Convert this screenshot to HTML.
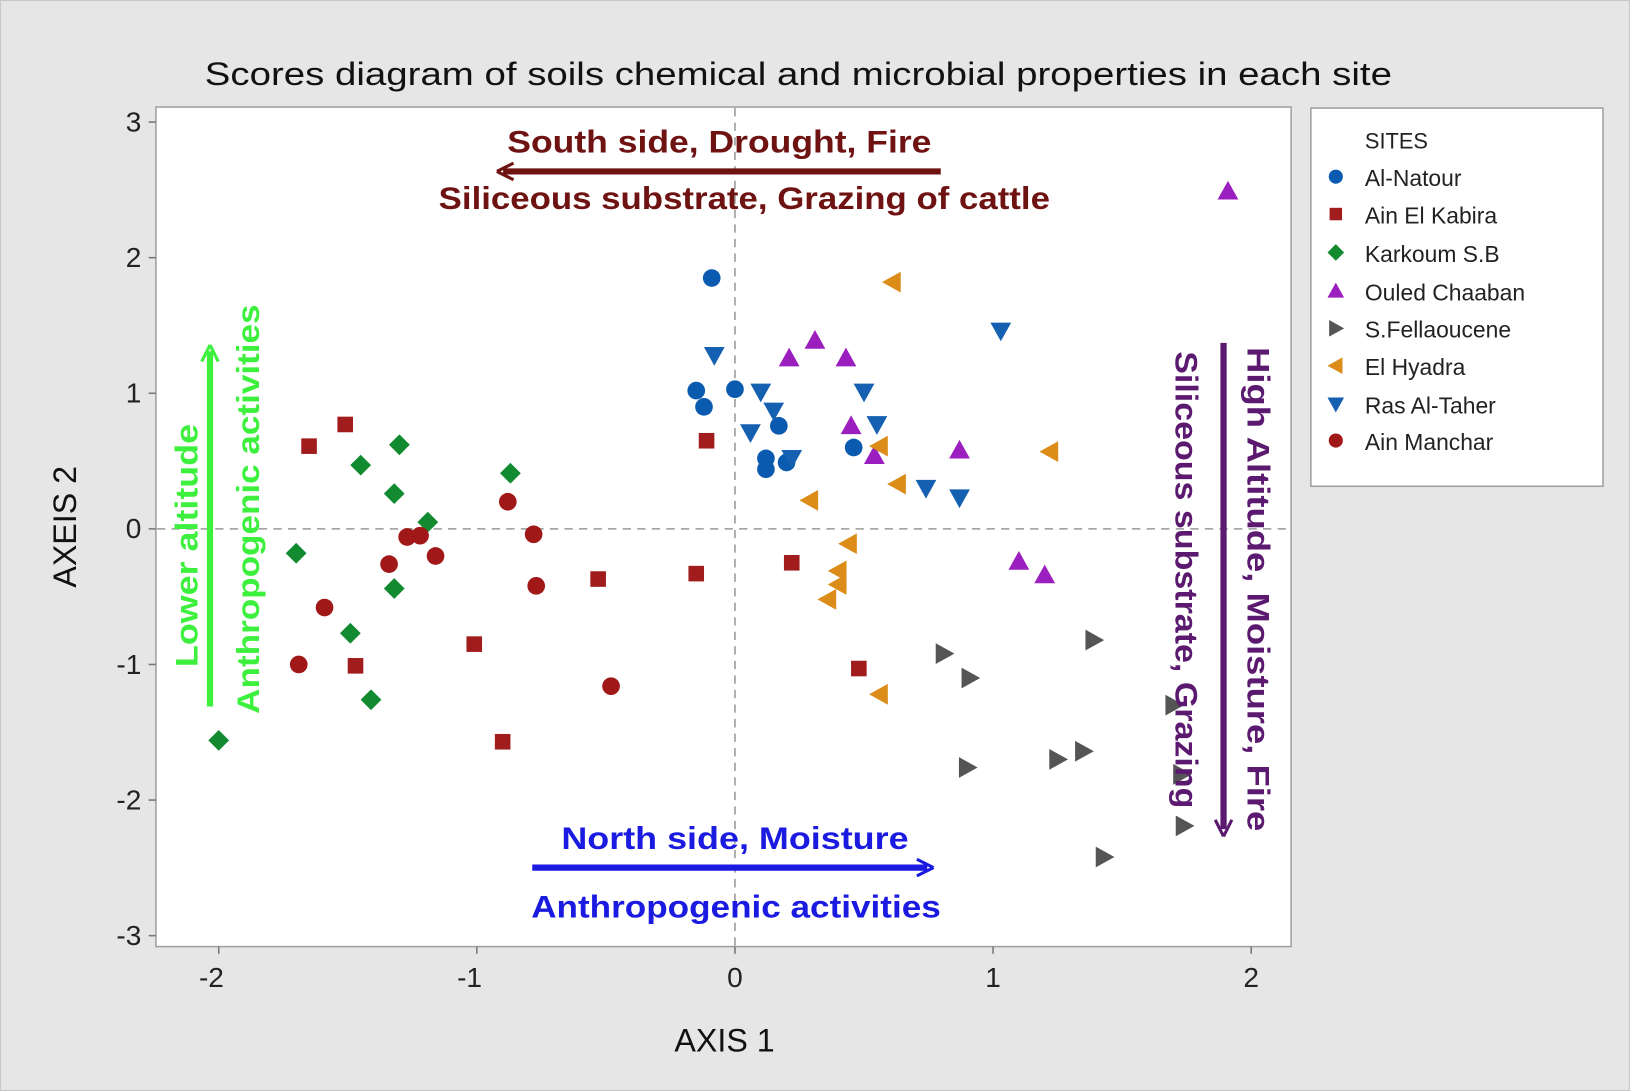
<!DOCTYPE html>
<html><head><meta charset="utf-8"><style>
html,body{margin:0;padding:0;background:#e6e6e6;}
svg{display:block;font-family:"Liberation Sans",sans-serif;}
</style></head><body>
<svg id="chart" width="1630" height="1091" viewBox="0 0 1568 1050" preserveAspectRatio="none">
<rect x="0" y="0" width="1568" height="1050" fill="#e6e6e6" stroke="#c8c8c8" stroke-width="2"/>
<text x="768" y="82" text-anchor="middle" font-size="31" textLength="1142" lengthAdjust="spacingAndGlyphs" fill="#111">Scores diagram of soils chemical and microbial properties in each site</text>
<rect x="150" y="103" width="1092" height="808" fill="#fff" stroke="#a0a0a0" stroke-width="1.5"/>
<g id="axes"></g>
<g id="marks"></g>
<g>
<text x="692" y="147" text-anchor="middle" font-size="30" font-weight="bold" fill="#6e1212" textLength="408" lengthAdjust="spacingAndGlyphs">South side, Drought, Fire</text>
<line x1="905" y1="165" x2="484" y2="165" stroke="#6e1212" stroke-width="6"/>
<path d="M478 165 L494 157 M478 165 L494 173" stroke="#6e1212" stroke-width="3" fill="none"/>
<text x="716" y="201" text-anchor="middle" font-size="30" font-weight="bold" fill="#6e1212" textLength="588" lengthAdjust="spacingAndGlyphs">Siliceous substrate, Grazing of cattle</text>
<text x="707" y="817" text-anchor="middle" font-size="30" font-weight="bold" fill="#1a1ae0" textLength="334" lengthAdjust="spacingAndGlyphs">North side, Moisture</text>
<line x1="512" y1="835" x2="892" y2="835" stroke="#1a1ae0" stroke-width="6"/>
<path d="M898 835 L882 827 M898 835 L882 843" stroke="#1a1ae0" stroke-width="3" fill="none"/>
<text x="708" y="883" text-anchor="middle" font-size="30" font-weight="bold" fill="#1a1ae0" textLength="394" lengthAdjust="spacingAndGlyphs">Anthropogenic activities</text>
<text transform="translate(190,525) rotate(-90)" text-anchor="middle" font-size="30" font-weight="bold" fill="#3ef03e" textLength="234" lengthAdjust="spacingAndGlyphs">Lower altitude</text>
<line x1="202" y1="680" x2="202" y2="338" stroke="#3ef03e" stroke-width="6"/>
<path d="M202 332 L194 348 M202 332 L210 348" stroke="#3ef03e" stroke-width="3" fill="none"/>
<text transform="translate(249,490) rotate(-90)" text-anchor="middle" font-size="30" font-weight="bold" fill="#3ef03e" textLength="394" lengthAdjust="spacingAndGlyphs">Anthropogenic activities</text>
<line x1="1177" y1="330" x2="1177" y2="798" stroke="#5b1a6f" stroke-width="6"/>
<path d="M1177 805 L1169 789 M1177 805 L1185 789" stroke="#5b1a6f" stroke-width="3" fill="none"/>
<text transform="translate(1200,567) rotate(90)" text-anchor="middle" font-size="30" font-weight="bold" fill="#5b1a6f" textLength="466" lengthAdjust="spacingAndGlyphs">High Altitude, Moisture, Fire</text>
<text transform="translate(1131,558) rotate(90)" text-anchor="middle" font-size="30" font-weight="bold" fill="#5b1a6f" textLength="440" lengthAdjust="spacingAndGlyphs">Siliceous substrate, Grazing</text>
</g>
<text x="697" y="1012" text-anchor="middle" font-size="31" fill="#111">AXIS 1</text>
<text transform="translate(73,507) rotate(-90)" text-anchor="middle" font-size="31" fill="#111">AXEIS 2</text>
<g id="legend">
<rect x="1261" y="104" width="281" height="364" fill="#fff" stroke="#a0a0a0" stroke-width="1.5"/>
<text x="1313" y="143" font-size="21" fill="#222">SITES</text>
</g>
</svg>
<script>
const ns="http://www.w3.org/2000/svg";
const xTicks=[-2,-1,0,1,2];
const yTicks=[3,2,1,0,-1,-2,-3];
const siteNames=["Al-Natour","Ain El Kabira","Karkoum S.B","Ouled Chaaban","S.Fellaoucene","El Hyadra","Ras Al-Taher","Ain Manchar"];
const alNatourX=[-0.09,-0.15,-0.12,0.00,0.17,0.12,0.12,0.20,0.46];
const alNatourY=[1.85,1.02,0.90,1.03,0.76,0.52,0.44,0.49,0.60];
const ainElKabiraX=[-1.51,-1.65,-1.47,-1.01,-0.90,-0.53,-0.15,-0.11,0.22,0.48];
const ainElKabiraY=[0.77,0.61,-1.01,-0.85,-1.57,-0.37,-0.33,0.65,-0.25,-1.03];
const karkoumX=[-1.30,-1.45,-1.32,-1.19,-1.70,-1.32,-1.49,-1.41,-0.87,-2.00];
const karkoumY=[0.62,0.47,0.26,0.05,-0.18,-0.44,-0.77,-1.26,0.41,-1.56];
const ouledX=[1.91,0.31,0.21,0.43,0.45,0.54,0.87,1.10,1.20];
const ouledY=[2.49,1.39,1.26,1.26,0.76,0.54,0.58,-0.24,-0.34];
const fellaouceneX=[0.81,0.91,1.39,0.90,1.25,1.35,1.70,1.73,1.74,1.43];
const fellaouceneY=[-0.92,-1.10,-0.82,-1.76,-1.70,-1.64,-1.30,-1.81,-2.19,-2.42];
const hyadraX=[0.61,0.56,1.22,0.63,0.29,0.44,0.40,0.40,0.36,0.56];
const hyadraY=[1.82,0.61,0.57,0.33,0.21,-0.11,-0.31,-0.41,-0.52,-1.22];
const rasX=[-0.08,0.10,0.15,0.06,0.50,0.55,0.22,0.74,0.87,1.03];
const rasY=[1.28,1.01,0.87,0.71,1.01,0.77,0.52,0.30,0.23,1.46];
const mancharX=[-0.88,-0.78,-0.77,-1.22,-1.27,-1.34,-1.16,-1.59,-1.69,-0.48];
const mancharY=[0.20,-0.04,-0.42,-0.05,-0.06,-0.26,-0.20,-0.58,-1.00,-1.16];

const sx=v=>707+v*248.3;
const sy=v=>509-v*130.5;
const series=[
 {x:alNatourX,y:alNatourY,shape:"circle",color:"#0a5bb0"},
 {x:ainElKabiraX,y:ainElKabiraY,shape:"square",color:"#a11c1c"},
 {x:karkoumX,y:karkoumY,shape:"diamond",color:"#128a30"},
 {x:ouledX,y:ouledY,shape:"up",color:"#9b1fbf"},
 {x:fellaouceneX,y:fellaouceneY,shape:"right",color:"#555555"},
 {x:hyadraX,y:hyadraY,shape:"left",color:"#dc8c18"},
 {x:rasX,y:rasY,shape:"down",color:"#1560b0"},
 {x:mancharX,y:mancharY,shape:"circle",color:"#a01818"}
];
function marker(shape,cx,cy,color,s){
 let el;
 if(shape==="circle"){el=document.createElementNS(ns,"circle");el.setAttribute("cx",cx);el.setAttribute("cy",cy);el.setAttribute("r",s*0.85);}
 else if(shape==="square"){el=document.createElementNS(ns,"rect");el.setAttribute("x",cx-s*0.75);el.setAttribute("y",cy-s*0.75);el.setAttribute("width",s*1.5);el.setAttribute("height",s*1.5);}
 else{
  el=document.createElementNS(ns,"polygon");let p;
  if(shape==="diamond")p=[[0,-s],[s,0],[0,s],[-s,0]];
  if(shape==="up")p=[[0,-s],[s,s*0.8],[-s,s*0.8]];
  if(shape==="down")p=[[0,s],[s,-s*0.8],[-s,-s*0.8]];
  if(shape==="right")p=[[s,0],[-s*0.8,-s],[-s*0.8,s]];
  if(shape==="left")p=[[-s,0],[s*0.8,-s],[s*0.8,s]];
  el.setAttribute("points",p.map(q=>(cx+q[0])+","+(cy+q[1])).join(" "));
 }
 el.setAttribute("fill",color);
 return el;
}
const axes=document.getElementById("axes");
function line(x1,y1,x2,y2,st,w,dash){const l=document.createElementNS(ns,"line");l.setAttribute("x1",x1);l.setAttribute("y1",y1);l.setAttribute("x2",x2);l.setAttribute("y2",y2);l.setAttribute("stroke",st);l.setAttribute("stroke-width",w);if(dash)l.setAttribute("stroke-dasharray",dash);axes.appendChild(l);return l;}
const zx=line(sx(0),104,sx(0),910,"#999",1.5,"8,6");


const zy=line(151,sy(0),1241,sy(0),"#999",1.5,"8,6");


xTicks.forEach(t=>{
 line(sx(t),911,sx(t),918,"#777",1.5);
 const tx=document.createElementNS(ns,"text");
 
 
 tx.setAttribute("x",sx(t)-(t<0?7:0));tx.setAttribute("y",950);tx.setAttribute("text-anchor","middle");tx.setAttribute("font-size","27");tx.setAttribute("fill","#222");
 tx.textContent=String(t);axes.appendChild(tx);
});
yTicks.forEach(t=>{
 line(143,sy(t),150,sy(t),"#777",1.5);
 const tx=document.createElementNS(ns,"text");
 
 
 tx.setAttribute("x",136);tx.setAttribute("y",sy(t)+9);tx.setAttribute("text-anchor","end");tx.setAttribute("font-size","27");tx.setAttribute("fill","#222");
 tx.textContent=String(t);axes.appendChild(tx);
});
const marks=document.getElementById("marks");
series.forEach((s,i)=>{
 s.x.forEach((v,j)=>{
  const m=marker(s.shape,sx(v),sy(s.y[j]),s.color,10);
  
  
  marks.appendChild(m);
 });
});
const legend=document.getElementById("legend");
const ly=[172,208,245,282,318,354,391,426];
siteNames.forEach((n,i)=>{
 const m=marker(series[i].shape,1285,ly[i]-2,series[i].color,8);
 
 
 legend.appendChild(m);
 const t=document.createElementNS(ns,"text");
 
 
 t.setAttribute("x",1313);t.setAttribute("y",ly[i]+7);t.setAttribute("font-size","22");t.setAttribute("fill","#222");
 t.textContent=n;legend.appendChild(t);
});
</script>
</body></html>
